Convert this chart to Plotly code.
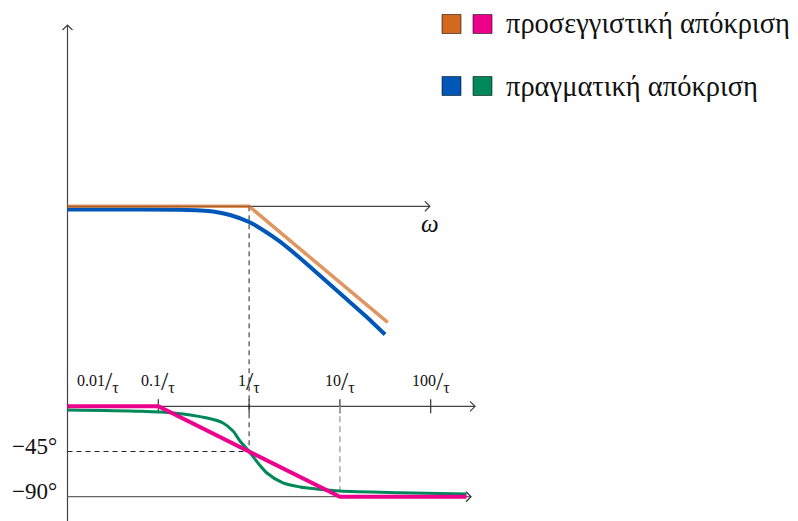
import numpy as np
import plotly.graph_objects as go

W, H = 798, 521

# ---------------- data ----------------
omega_asym = [0.01, 1.0, 33.6]
mag_asym_db = [0.0, 0.0, -30.5]

omega_mag = [0.01, 0.049, 0.173, 0.40, 0.616, 1.0, 1.42, 2.19, 3.37, 5.06, 7.78, 11.97, 18.9, 31.4]
mag_real_db = [-0.84, -0.87, -0.92, -1.37, -2.29, -4.13, -6.23, -9.30, -12.93, -16.61,
               -20.55, -24.49, -28.69, -33.68]

omega_phase_asym = [0.01, 0.1, 10.0, 248.0]
phase_asym_deg = [0, 0, -90, -90]

omega_phase = [0.01, 0.063, 0.145, 0.344, 0.516, 0.665, 0.794, 1.0, 1.26, 1.57,
               2.36, 3.64, 5.6, 10.0, 45.9, 248.0]
phase_real_deg = [-3.7, -5.0, -6.7, -11.7, -16.6, -24.6, -34.5, -45.0, -56.7, -66.4,
                  -76.3, -80.3, -82.3, -84.3, -86.0, -87.3]

tick_omega = [0.01, 0.1, 1, 10, 100]
tick_labels = ["0.01", "0.1", "1", "10", "100"]
phase_marks = [-45, -90]
phase_mark_labels = ["−45°", "−90°"]
legend_labels = ["προσεγγιστική απόκριση", "πραγματική απόκριση"]

# ---------------- styles ----------------
C_ORANGE = "#D2691E"
C_PINK = "#EC008C"
C_BLUE = "#0057B7"
C_GREEN = "#00875A"
AX = "#444444"
FONT = "Liberation Serif"
TXT = "#111111"

XR = [-2.7434, 6.0452]     # log10(omega)
YR = [-82.68, 54.20]       # dB
Y2R = [-114.19, 404.5]     # degrees


def xp(om):
    return (np.log10(om) - XR[0]) / (XR[1] - XR[0])


def yp(v):
    return (v - YR[0]) / (YR[1] - YR[0])


def y2p(v):
    return (v - Y2R[0]) / (Y2R[1] - Y2R[0])


fig = go.Figure()
fig.add_trace(go.Scatter(x=omega_mag, y=mag_real_db, mode="lines",
                         line=dict(color=C_BLUE, width=4, shape="spline", smoothing=0.6),
                         showlegend=False, hoverinfo="skip"))
fig.add_trace(go.Scatter(x=omega_asym, y=mag_asym_db, mode="lines",
                         line=dict(color="rgba(210,105,30,0.7)", width=3.5),
                         showlegend=False, hoverinfo="skip"))
fig.add_trace(go.Scatter(x=omega_phase, y=phase_real_deg, mode="lines", yaxis="y2",
                         line=dict(color=C_GREEN, width=3, shape="spline", smoothing=0.8),
                         showlegend=False, hoverinfo="skip"))
fig.add_trace(go.Scatter(x=omega_phase_asym, y=phase_asym_deg, mode="lines", yaxis="y2",
                         line=dict(color=C_PINK, width=4),
                         showlegend=False, hoverinfo="skip"))

shapes = []
x0 = xp(tick_omega[0])


def line(xa, ya, xb, yb, color=AX, width=1.2, dash=None):
    d = dict(type="line", xref="paper", yref="paper", x0=xa, y0=ya, x1=xb, y1=yb,
             line=dict(color=color, width=width), layer="below")
    if dash:
        d["line"]["dash"] = dash
    shapes.append(d)


def chevron(xt, yt, direction, color=AX):
    s = 5.0
    dx, dy = s / W, s / H
    if direction == "right":
        path = f"M {xt-dx},{yt+dy} L {xt},{yt} L {xt-dx},{yt-dy}"
    else:
        path = f"M {xt-dx},{yt-dy} L {xt},{yt} L {xt+dx},{yt-dy}"
    shapes.append(dict(type="path", xref="paper", yref="paper", path=path,
                       line=dict(color=color, width=1.2)))


# vertical axis (shared)
top_tip = 1 - 25 / H
line(x0, 0, x0, top_tip)
chevron(x0, top_tip, "up")
# magnitude axis at 0 dB
xe_top = xp(98)
line(x0, yp(0), xe_top, yp(0))
chevron(xe_top, yp(0), "right")
# phase axis at 0 deg
xe_ph = xp(308)
line(x0, y2p(0), xe_ph, y2p(0))
chevron(xe_ph, y2p(0), "right")
# -90 deg line
xe_90 = xp(278)
line(x0, y2p(-90), xe_90, y2p(-90), color="#666666")
chevron(xe_90, y2p(-90), "right", color="#333333")
# ticks
for om in tick_omega[1:]:
    line(xp(om), y2p(-7), xp(om), y2p(7), color="#333333", width=1.2)
# dashed guides
line(xp(1), yp(0), xp(1), y2p(-45), color="#222222", width=1, dash="5px,4px")
line(x0, y2p(-45), xp(1), y2p(-45), color="#222222", width=1, dash="5px,4px")
line(xp(10), y2p(0), xp(10), y2p(-90), color="#AAAAAA", width=1.5, dash="6px,4px")

annotations = []
# tick labels (nicefrac style: raised numerator, big slash, lowered tau)
label_pos = [10 ** -1.664] + tick_omega[1:]
for om, lab in zip(label_pos, tick_labels):
    txt = (f'<span style="font-size:16px;baseline-shift:4px">{lab}</span>'
           f'<span style="font-size:26px">/</span>'
           f'<span style="font-size:16px;baseline-shift:-3px">τ</span>')
    annotations.append(dict(x=np.log10(om), y=25, xref="x", yref="y2", showarrow=False,
                            text=txt, xanchor="center", yanchor="middle",
                            font=dict(family=FONT, size=16, color=TXT)))
# phase marks
for v, lab in zip(phase_marks, phase_mark_labels):
    annotations.append(dict(
        x=x0 - 9 / W, y=v + 5, xref="paper", yref="y2", showarrow=False, text=lab,
        font=dict(family=FONT, size=23, color=TXT),
        xanchor="right", yanchor="middle"))
# omega label
annotations.append(dict(x=np.log10(98), y=-4.6, xref="x", yref="y", showarrow=False,
                        text="<i>ω</i>", font=dict(family=FONT, size=25, color=TXT),
                        xanchor="center", yanchor="middle"))

# legend (custom)
legend_rows = [(24, [C_ORANGE, C_PINK]), (86, [C_BLUE, C_GREEN])]
for (cy, cols), lab in zip(legend_rows, legend_labels):
    for i, c in enumerate(cols):
        xl = 442 + 31 * i
        shapes.append(dict(type="rect", xref="paper", yref="paper",
                           x0=xl / W, x1=(xl + 19) / W,
                           y0=1 - (cy - 9.5) / H, y1=1 - (cy + 9.5) / H,
                           fillcolor=c, line=dict(color="rgba(0,0,0,0.55)", width=1)))
    annotations.append(dict(x=504 / W, y=1 - cy / H, xref="paper", yref="paper",
                            showarrow=False, text=lab, xanchor="left", yanchor="middle",
                            font=dict(family=FONT, size=28.5, color=TXT)))

fig.update_layout(
    width=W, height=H, margin=dict(l=0, r=0, t=0, b=0),
    paper_bgcolor="white", plot_bgcolor="white",
    xaxis=dict(type="log", range=XR, visible=False, domain=[0, 1]),
    yaxis=dict(range=YR, visible=False, domain=[0, 1]),
    yaxis2=dict(range=Y2R, visible=False, overlaying="y"),
    shapes=shapes, annotations=annotations, showlegend=False,
)

fig.write_html("out.html", config={"displayModeBar": False},
               post_script="document.body.style.margin='0';document.body.style.overflow='hidden';")
